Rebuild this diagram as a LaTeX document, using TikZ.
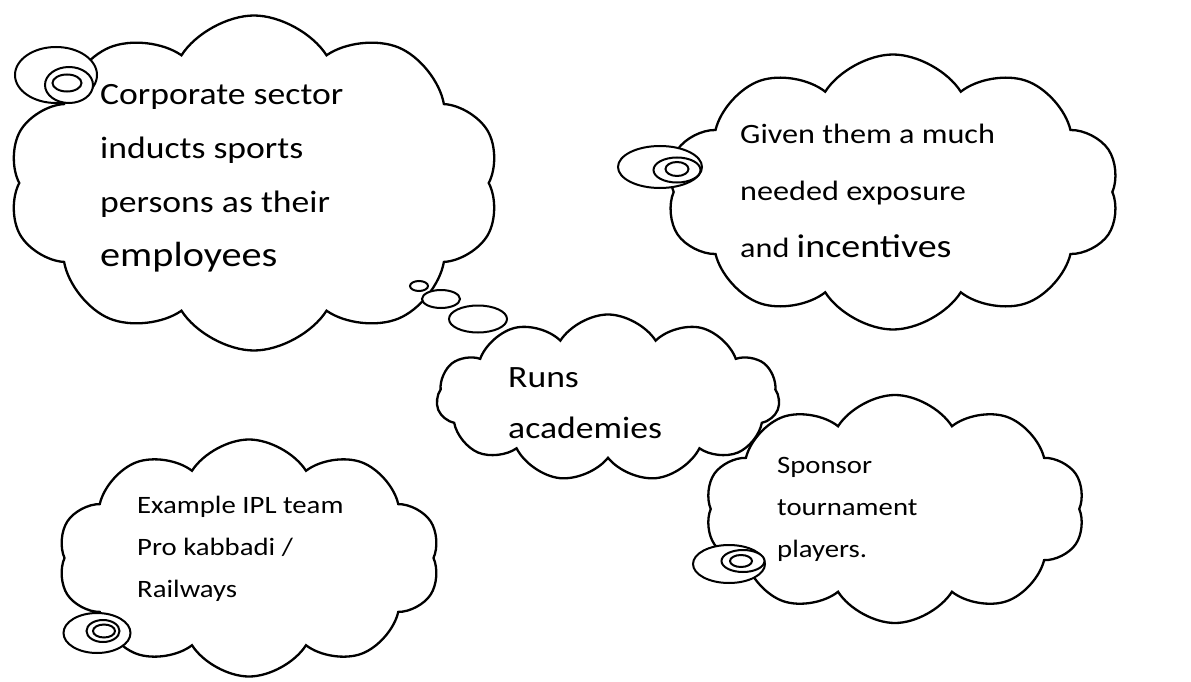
\documentclass[tikz,border=0pt]{standalone}
\usepackage{fontspec}
\newfontfamily\cloudfont[FakeStretch=1.15]{Carlito}
\usetikzlibrary{shapes.symbols,shapes.geometric}

\tikzset{
  thought/.style={cloud, cloud puffs=10, cloud puff arc=115, cloud ignores aspect,
    draw, line width=2.3pt, fill=white, inner sep=0pt},
  bubble/.style={ellipse, draw, line width=2pt, fill=white, inner sep=0pt},
  cloudtext/.style={anchor=base west, align=left, inner sep=0pt}
}

\begin{document}
\begin{tikzpicture}[x=1pt,y=-1pt]
  \useasboundingbox (0,0) rectangle (1191,682);
  % clouds
  \node[thought, minimum width=492pt, minimum height=335pt] at (254,183) (corp) {};
  \node[thought, minimum width=453pt, minimum height=275pt] at (893,192) (given) {};
  \node[thought, cloud puffs=11, minimum width=343pt, minimum height=167pt] at (608,398) (runs) {};
  \node[thought, minimum width=382pt, minimum height=237pt] at (249,558) (example) {};
  \node[thought, minimum width=380pt, minimum height=228pt] at (895,509) (sponsor) {};
  % thought bubbles from corp to runs
  \node[bubble, minimum width=18pt, minimum height=10pt] at (419,286) (dot1) {};
  \node[bubble, minimum width=38pt, minimum height=18pt] at (441,299) (dot2) {};
  \node[bubble, minimum width=58pt, minimum height=27pt] at (478,319) (dot3) {};
  % callouts: outer, ring, core
  \foreach \n/\ox/\oy/\ow/\oh/\rx/\ry/\rw/\rh/\kx/\ky/\kw/\kh in {
      corp/56/75/82/56/69/85/48/36/67/83/29/17,
      given/660/167/84/42/677/170/47/25/677/169/23/14,
      example/97/633/67/40/103/631/33/22/104/631/22/13,
      sponsor/729/564/72/38/743/561/43/22/741/561/22/12} {
    \node[bubble, minimum width=\ow pt, minimum height=\oh pt] at (\ox,\oy) (\n-outer) {};
    \node[bubble, minimum width=\rw pt, minimum height=\rh pt] at (\rx,\ry) (\n-ring) {};
    \node[bubble, minimum width=\kw pt, minimum height=\kh pt] at (\kx,\ky) (\n-core) {};
  }
  % texts (anchored at the baseline of their last line)
  \node[cloudtext, font=\cloudfont\fontsize{31}{54}\selectfont] at (100,266) (corptext)
    {Corporate sector\\inducts sports\\persons as their\\{\fontsize{35}{54}\selectfont employees}};
  \node[cloudtext, font=\cloudfont\fontsize{28}{57}\selectfont] at (740,257) (giventext)
    {Given them a much\\needed exposure\\and {\fontsize{33}{57}\selectfont incentives}};
  \node[cloudtext, font=\cloudfont\fontsize{31}{51}\selectfont] at (508,438) (runstext)
    {Runs\\academies};
  \node[cloudtext, font=\cloudfont\fontsize{25}{42}\selectfont] at (137,597) (exampletext)
    {Example IPL team\\Pro kabbadi /\\Railways};
  \node[cloudtext, font=\cloudfont\fontsize{25}{42}\selectfont] at (777,557) (sponsortext)
    {Sponsor\\tournament\\players.};
\end{tikzpicture}
\end{document}
